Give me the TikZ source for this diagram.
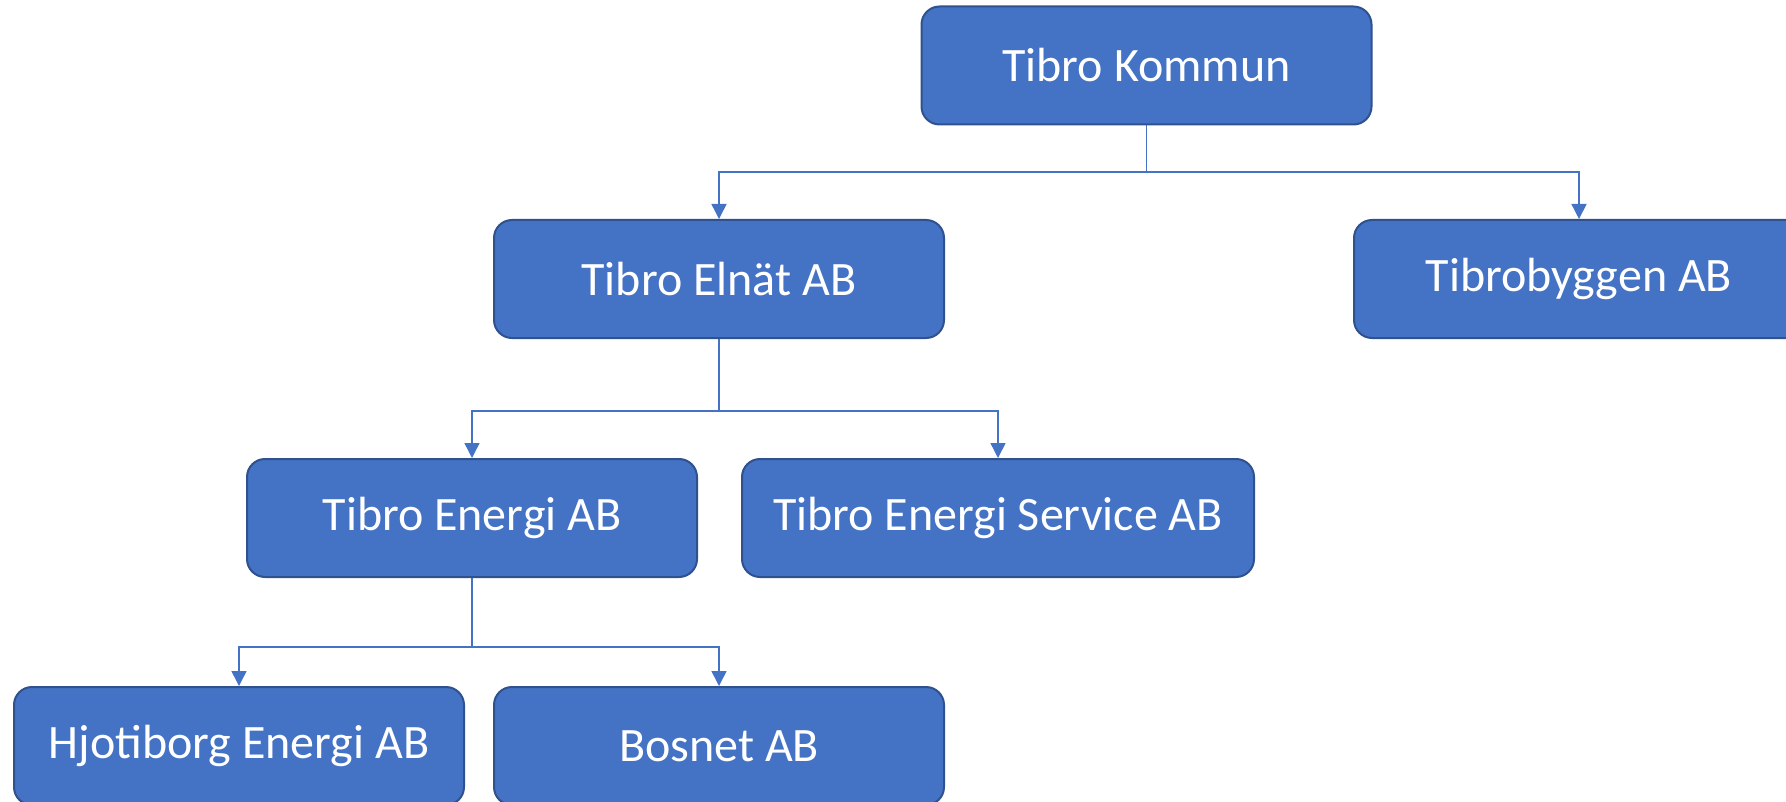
\documentclass[tikz,border=0pt]{standalone}
\usepackage{fontspec}
\setmainfont{Carlito}
\usetikzlibrary{arrows.meta}
\definecolor{boxfill}{HTML}{4472C4}
\definecolor{boxline}{HTML}{2F528F}
\definecolor{conn}{HTML}{4472C4}
\begin{document}
\begin{tikzpicture}[x=0.5pt,y=-0.5pt,
  orgbox/.style={draw=boxline, line width=1pt, fill=boxfill, rounded corners=9pt,
    minimum width=225pt, minimum height=59pt, text=white, font=\fontsize{24pt}{28pt}\selectfont,
    inner sep=0pt},
  conn/.style={draw=conn, line width=0.75pt},
  arr/.style={conn, -{Triangle[length=7.5pt,width=7.5pt]}}]
\useasboundingbox (0,0) rectangle (1786,802);
\clip (0,0) rectangle (1786,802);
\node[orgbox] (kommun) at (1146.5,65.5) {Tibro Kommun};
\node[orgbox] (elnat) at (719,279) {Tibro Elnät AB};
\node[orgbox] (bygg) at (1579,279) {Tibrobyggen AB};
\node[orgbox] (energi) at (472,518) {Tibro Energi AB};
\node[orgbox, minimum width=256pt] (service) at (998,518) {Tibro Energi Service AB};
\node[orgbox] (hjoti) at (239,746) {Hjotiborg Energi AB};
\node[orgbox] (bosnet) at (719,746) {Bosnet AB};
% level 1
\coordinate (b1) at (1146.5,172);
\draw[conn] (kommun.south) -- (b1);
\draw[arr] (b1) -| (elnat.north);
\draw[arr] (b1) -| (bygg.north);
% level 2
\coordinate (b2) at (719,411);
\draw[conn] (elnat.south) -- (b2);
\draw[arr] (b2) -| (energi.north);
\draw[arr] (b2) -| (service.north);
% level 3
\coordinate (b3) at (472,647);
\draw[conn] (energi.south) -- (b3);
\draw[arr] (b3) -| (hjoti.north);
\draw[arr] (b3) -| (bosnet.north);
\end{tikzpicture}
\end{document}
